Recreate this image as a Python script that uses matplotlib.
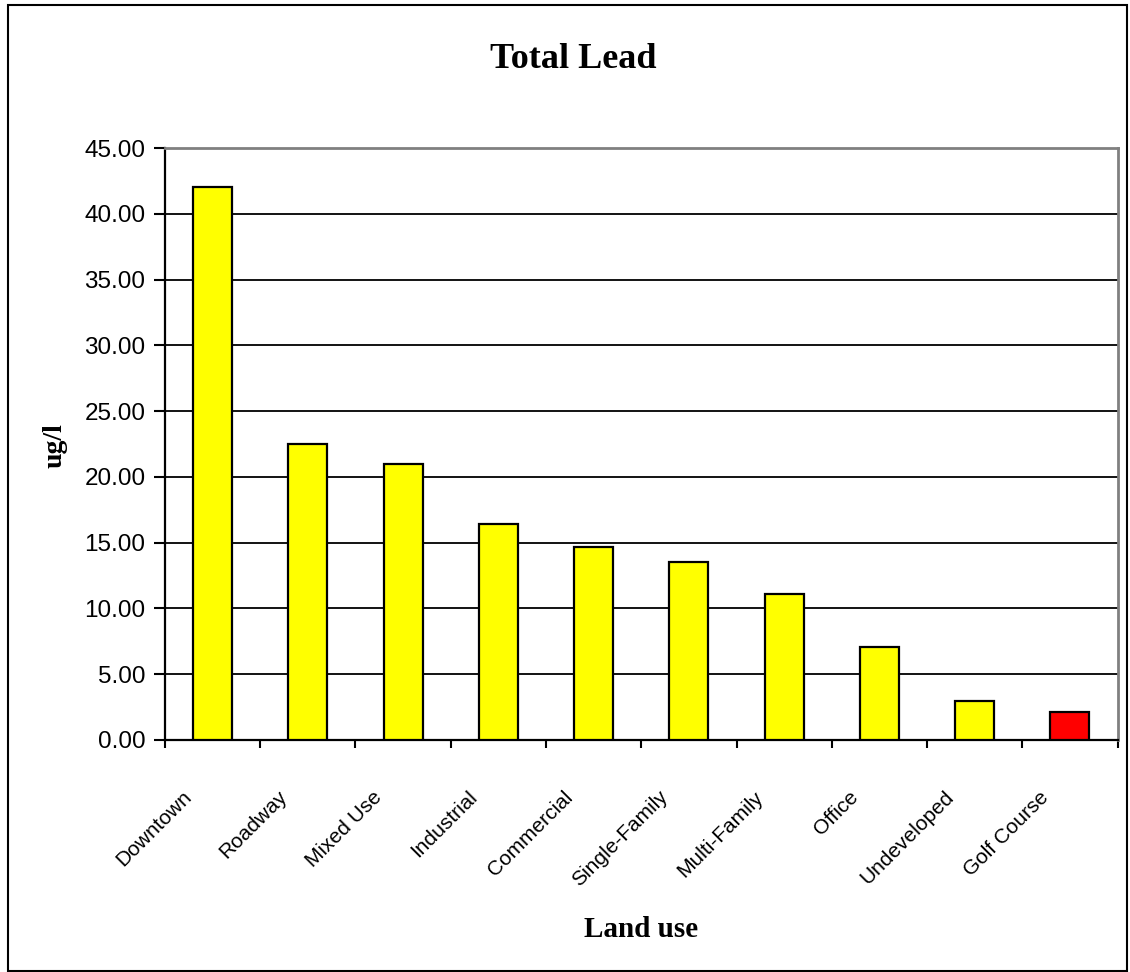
import matplotlib.pyplot as plt
from matplotlib.patches import Rectangle

# total lead concentration by land use
land_use = ['Downtown', 'Roadway', 'Mixed Use', 'Industrial', 'Commercial',
            'Single-Family', 'Multi-Family', 'Office', 'Undeveloped', 'Golf Course']
lead = [42.0, 22.5, 21.0, 16.4, 14.7, 13.5, 11.1, 7.1, 3.0, 2.1]
bar_colors = ['#ffff00'] * 9 + ['#ff0000']

fig = plt.figure(figsize=(11.3, 9.72), dpi=100)
ax = fig.add_axes([0.146, 0.2387, 0.843, 0.609])

x = list(range(len(land_use)))
ax.bar(x, lead, width=0.41, color=bar_colors, edgecolor='black', linewidth=1.6, zorder=3)

ax.set_xlim(-0.5, len(land_use) - 0.5)
ax.set_ylim(0, 45)
ax.set_yticks([i * 5 for i in range(10)])
ax.set_yticklabels(['%.2f' % (i * 5) for i in range(10)],
                   fontsize=17.5, family='Liberation Sans')
ax.yaxis.grid(True, color='black', linewidth=1.3, zorder=0)

# x ticks sit on category boundaries, labels under the bars
ax.set_xticks([i - 0.5 for i in range(len(land_use) + 1)])
ax.set_xticklabels([])
ax.tick_params(axis='x', direction='out', length=6, width=1.5)
ax.tick_params(axis='y', direction='out', length=8, width=1.5, pad=6)
for i, name in enumerate(land_use):
    ax.text(i - 0.32, -3.6, name, rotation=45, ha='right', va='top',
            rotation_mode='anchor', fontsize=15, family='Liberation Sans')

for side in ['left', 'bottom']:
    ax.spines[side].set_color('black')
    ax.spines[side].set_linewidth(1.6)
for side in ['top', 'right']:
    ax.spines[side].set_color('#808080')
    ax.spines[side].set_linewidth(2)

fig.text(0.507, 0.930, 'Total Lead', ha='center', va='baseline',
         fontsize=26, fontweight='bold', family='Liberation Serif')
fig.text(0.049, 0.542, 'ug/l', ha='center', va='center', rotation=90,
         fontsize=20, fontweight='bold', family='Liberation Serif')
fig.text(0.567, 0.036, 'Land use', ha='center', va='baseline',
         fontsize=21, fontweight='bold', family='Liberation Serif')

# outer chart border
fig.patches.append(Rectangle((0.007, 0.001), 0.99, 0.994, transform=fig.transFigure,
                             fill=False, edgecolor='black', linewidth=1.5))

fig.savefig('out.png', dpi=100)
